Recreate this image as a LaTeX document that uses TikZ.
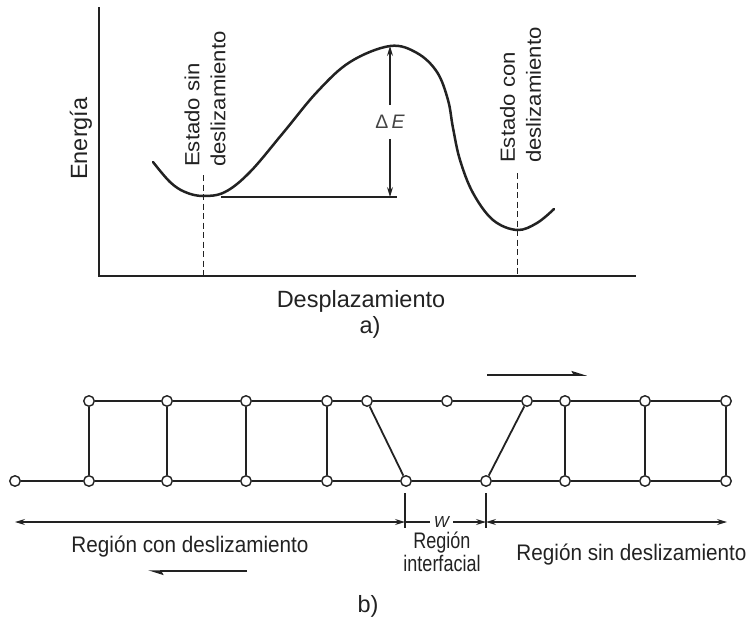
\documentclass[tikz,border=0pt]{standalone}
\usepackage{fontspec}
\setmainfont{Liberation Sans}
\newfontfamily\widefont[FakeStretch=1.08]{Liberation Sans}
\newfontfamily\narrowfont[FakeStretch=0.8]{Liberation Sans}
\newfontfamily\botfont[FakeStretch=0.92]{Liberation Sans}
\usetikzlibrary{arrows.meta}
\definecolor{ink}{HTML}{222222}
\begin{document}
\begin{tikzpicture}[x=1pt,y=-1pt,color=ink,
  site/.style={circle,draw=ink,fill=white,line width=1.4pt,inner sep=0pt,minimum size=10.5pt},
  bond/.style={line width=1.8pt},
  axisline/.style={line width=1.7pt},
  curveline/.style={line width=2.5pt,line cap=round},
  guide/.style={dash pattern=on 6pt off 3.5pt,line width=1pt},
  dim/.style={line width=1.1pt},
  tip/.tip={Stealth[length=10pt,width=6pt,inset=3.5pt]},
  half/.tip={Stealth[harpoon,length=13pt,width=8pt,inset=2pt]},
  toplabel/.style={font=\fontsize{23.5}{28}\selectfont,inner sep=0pt},
  statelabel/.style={font=\widefont\fontsize{20.5}{26}\selectfont,inner sep=0pt,rotate=90,anchor=west,align=left},
  botlabel/.style={font=\botfont\fontsize{22.5}{26}\selectfont,inner sep=0pt,anchor=base}
]
\useasboundingbox (0,0) rectangle (750,622);

% ---------- a) energy curve ----------
\coordinate (ytop) at (99,7);
\coordinate (orig) at (99,276);
\coordinate (xend) at (636,276);
\draw[axisline] (ytop) -- (orig) -- (xend);

\draw[curveline] plot[smooth,tension=0.6] coordinates {
 (153,162) (170,182) (185,192) (203,196) (225,192) (250,172) (283,133)
 (317,92) (350,62) (390,46) (417,53) (437,72) (448,100) (453,128)
 (460,160) (473,193) (493,220) (517,230) (537,223) (554,209)};

\coordinate (g1a) at (203,175);
\coordinate (g1b) at (203,276);
\coordinate (g2a) at (517,173);
\coordinate (g2b) at (517,276);
\draw[guide] (g1a) -- (g1b);
\draw[guide] (g2a) -- (g2b);

\coordinate (refA) at (221,197);
\coordinate (refB) at (397,197);
\draw[dim] (refA) -- (refB);

\coordinate (peak) at (390,46);
\coordinate (base) at (390,197);
\node[font=\fontsize{19.5}{22}\selectfont,color=ink!85,inner xsep=2pt,inner ysep=10pt] (dE) at (390,122) {Δ\,\textit{E}};
\draw[dim,-tip] (dE.north) -- (peak);
\draw[dim,-tip] (dE.south) -- (base);

\node[statelabel] (s1) at (205,167) {Estado sin\\deslizamiento};
\node[statelabel] (s2) at (520.5,163) {Estado con\\deslizamiento};

\node[toplabel,rotate=90,anchor=base west] (en) at (87,180) {Energía};
\node[toplabel,anchor=base] (dx) at (361,307) {Desplazamiento};
\node[toplabel,anchor=base] (la) at (370,333) {a)};

% ---------- b) lattice ----------
\foreach \i/\x in {1/89,2/167,3/246,4/327,5/367,6/447,7/527,8/565,9/645,10/726}
  \node[site] (t\i) at (\x,401) {};
\foreach \i/\x in {0/15,1/89,2/167,3/246,4/327,5/406,6/486,7/565,8/645,9/726}
  \node[site] (b\i) at (\x,481) {};
\foreach \i [evaluate=\i as \j using int(\i+1)] in {1,...,9}
  \draw[bond] (t\i) -- (t\j);
\foreach \i [evaluate=\i as \j using int(\i+1)] in {0,...,8}
  \draw[bond] (b\i) -- (b\j);
\foreach \a/\b in {1/1,2/2,3/3,4/4,5/5,7/6,8/7,9/8,10/9}
  \draw[bond] (t\a) -- (b\b);

% motion arrows
\coordinate (upA) at (487,375);
\coordinate (upB) at (587,375);
\draw[line width=1.5pt,-half] (upA) -- (upB);
\coordinate (loA) at (247,571);
\coordinate (loB) at (148,571);
\draw[line width=1.5pt,-half] (loA) -- (loB);

% dimension lines
\coordinate (k1a) at (405,493);
\coordinate (k1b) at (405,528);
\coordinate (k2a) at (486,493);
\coordinate (k2b) at (486,528);
\draw[dim] (k1a) -- (k1b);
\draw[dim] (k2a) -- (k2b);
\coordinate (dL) at (15,522);
\coordinate (dM1) at (405,522);
\coordinate (dM2) at (486,522);
\coordinate (dR) at (727,522);
\node[font=\fontsize{16}{18}\selectfont\itshape,inner xsep=4pt,inner ysep=1pt] (wl) at (441.5,522) {W};
\draw[dim,tip-tip] (dL) -- (dM1);
\draw[dim] (dM1) -- (wl.west);
\draw[dim,-tip] (wl.east) -- (dM2);
\draw[dim,tip-tip] (dM2) -- (dR);

\node[botlabel] (r1) at (190,552) {Región con deslizamiento};
\node[botlabel,font=\narrowfont\fontsize{22.5}{26}\selectfont] (r2) at (442,548) {Región};
\node[botlabel,font=\narrowfont\fontsize{22.5}{26}\selectfont] (r3) at (442,571) {interfacial};
\node[botlabel] (r4) at (631.5,560) {Región sin deslizamiento};
\node[toplabel,anchor=base] (lb) at (368,612) {b)};
\end{tikzpicture}
\end{document}
